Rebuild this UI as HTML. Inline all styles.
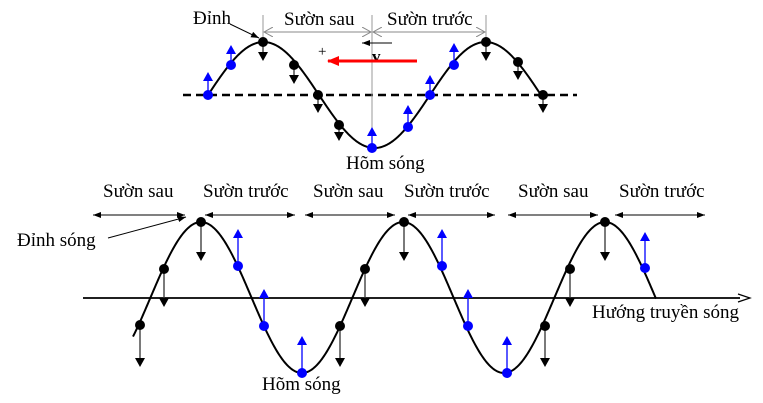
<!DOCTYPE html>
<html><head><meta charset="utf-8"><style>
html,body{margin:0;padding:0;background:#fff;}
svg{display:block;}
text{font-family:"Liberation Serif",serif;font-size:19px;fill:#000;}
</style></head><body>
<svg id="s" width="763" height="403" viewBox="0 0 763 403" xmlns="http://www.w3.org/2000/svg">
<defs>
<marker id="ga" markerWidth="10" markerHeight="10" refX="9" refY="5" orient="auto" markerUnits="userSpaceOnUse"><path d="M0,0 L9,5 L0,10" fill="none" stroke="#888" stroke-width="1"/></marker>
<marker id="ka" markerWidth="8" markerHeight="6" refX="8" refY="3" orient="auto" markerUnits="userSpaceOnUse"><path d="M0,0 L8,3 L0,6 Z" fill="#000"/></marker>
<marker id="ra" markerWidth="12" markerHeight="10" refX="11" refY="5" orient="auto" markerUnits="userSpaceOnUse"><path d="M0,0 L12,5 L0,10 Z" fill="#f00"/></marker>
</defs>
<line x1="183" y1="95" x2="577" y2="95" stroke="#000" stroke-width="2.5" stroke-dasharray="8,5"/>
<line x1="263" y1="15" x2="263" y2="42" stroke="#999" stroke-width="1"/>
<line x1="372" y1="15" x2="372" y2="148" stroke="#999" stroke-width="1"/>
<line x1="486" y1="15" x2="486" y2="42" stroke="#999" stroke-width="1"/>
<line x1="318" y1="32" x2="264" y2="32" stroke="#888" marker-end="url(#ga)"/>
<line x1="318" y1="32" x2="371" y2="32" stroke="#888" marker-end="url(#ga)"/>
<line x1="430" y1="32" x2="373" y2="32" stroke="#888" marker-end="url(#ga)"/>
<line x1="430" y1="32" x2="485" y2="32" stroke="#888" marker-end="url(#ga)"/>
<text x="284" y="25">Sườn sau</text>
<text x="387" y="25">Sườn trước</text>
<text x="193" y="24">Đỉnh</text>
<line x1="230" y1="24" x2="259" y2="38" stroke="#000" marker-end="url(#ka)"/>
<text x="318" y="56" style="font-size:15px">+</text>
<line x1="392" y1="43" x2="362" y2="43" stroke="#000" marker-end="url(#ka)"/>
<text x="372" y="62" style="font-weight:bold;font-size:17px">v</text>
<line x1="417" y1="61" x2="328" y2="61" stroke="#f00" stroke-width="3" marker-end="url(#ra)"/>
<text x="346" y="169">Hõm sóng</text>
<line x1="83" y1="298" x2="740" y2="298" stroke="#000" stroke-width="1.8"/>
<path d="M738,294 L750,298 L738,302" fill="none" stroke="#000" stroke-width="1.2"/>
<text x="592" y="318">Hướng truyền sóng</text>
<text x="103" y="197">Sườn sau</text>
<text x="203" y="197">Sườn trước</text>
<text x="313" y="197">Sườn sau</text>
<text x="404" y="197">Sườn trước</text>
<text x="518" y="197">Sườn sau</text>
<text x="619" y="197">Sườn trước</text>
<text x="17" y="246">Đỉnh sóng</text>
<text x="262" y="390">Hõm sóng</text>
<line x1="108" y1="238" x2="186" y2="217" stroke="#000" marker-end="url(#ka)"/>
<g id="g"></g>
</svg>
<script>
(function(){
var g=document.getElementById('g'),NS='http://www.w3.org/2000/svg';
function el(t,a){var e=document.createElementNS(NS,t);for(var k in a)e.setAttribute(k,a[k]);g.appendChild(e);return e;}
function wave(x0,x1,xz,P,A,yc,w){var d='';for(var x=x0;x<=x1;x+=1){var y=yc-A*Math.sin(2*Math.PI*(x-xz)/P);d+=(x==x0?'M':'L')+x+','+y.toFixed(2);}el('path',{d:d,fill:'none',stroke:'#000','stroke-width':w});}
wave(208,543,208,222,53,95,2);
wave(133,656,150.5,202,75.5,297.5,2);
function dbl(a,b,y){el('line',{x1:(a+b)/2,y1:y,x2:a,y2:y,stroke:'#000','marker-end':'url(#ka)'});el('line',{x1:(a+b)/2,y1:y,x2:b,y2:y,stroke:'#000','marker-end':'url(#ka)'});}
[[93,185],[205,295],[305,395],[408,495],[508,598],[615,705]].forEach(function(p){dbl(p[0],p[1],215);});
function pt(x,y,y2,blue,r){var c=blue?'#00f':'#000';
 el('line',{x1:x,y1:y,x2:x,y2:y2+(y2<y?6:-6),stroke:blue?'#00f':'#333','stroke-width':1.3});
 var h=y2<y?-1:1;el('path',{d:'M'+(x-5)+','+(y2-h*9)+' L'+(x+5)+','+(y2-h*9)+' L'+x+','+y2+' Z',fill:c});
 el('circle',{cx:x,cy:y,r:r,fill:c});}
var tp=[[208,95,72,1],[231,65,45,1],[263,42,61,0],[294,65,84,0],[318,95,113,0],[339,125,141,0],[372,148,127,1],[408,127,105,1],[430,95,75,1],[454,65,43,1],[486,42,61,0],[518,62,80,0],[543,95,113,0]];
tp.forEach(function(p){pt(p[0],p[1],p[2],p[3],5);});
var bt=[[140,325,367,0],[164,269,307,0],[201,222,261,0],[238,266,229,1],[264,326,289,1],[302,373,336,1],[340,326,367,0],[365,269,307,0],[404,222,261,0],[442,266,229,1],[468,326,289,1],[507,373,336,1],[545,326,367,0],[570,269,307,0],[605,222,261,0],[645,268,232,1]];
bt.forEach(function(p){pt(p[0],p[1],p[2],p[3],5);});
})();
</script>
</body></html>
